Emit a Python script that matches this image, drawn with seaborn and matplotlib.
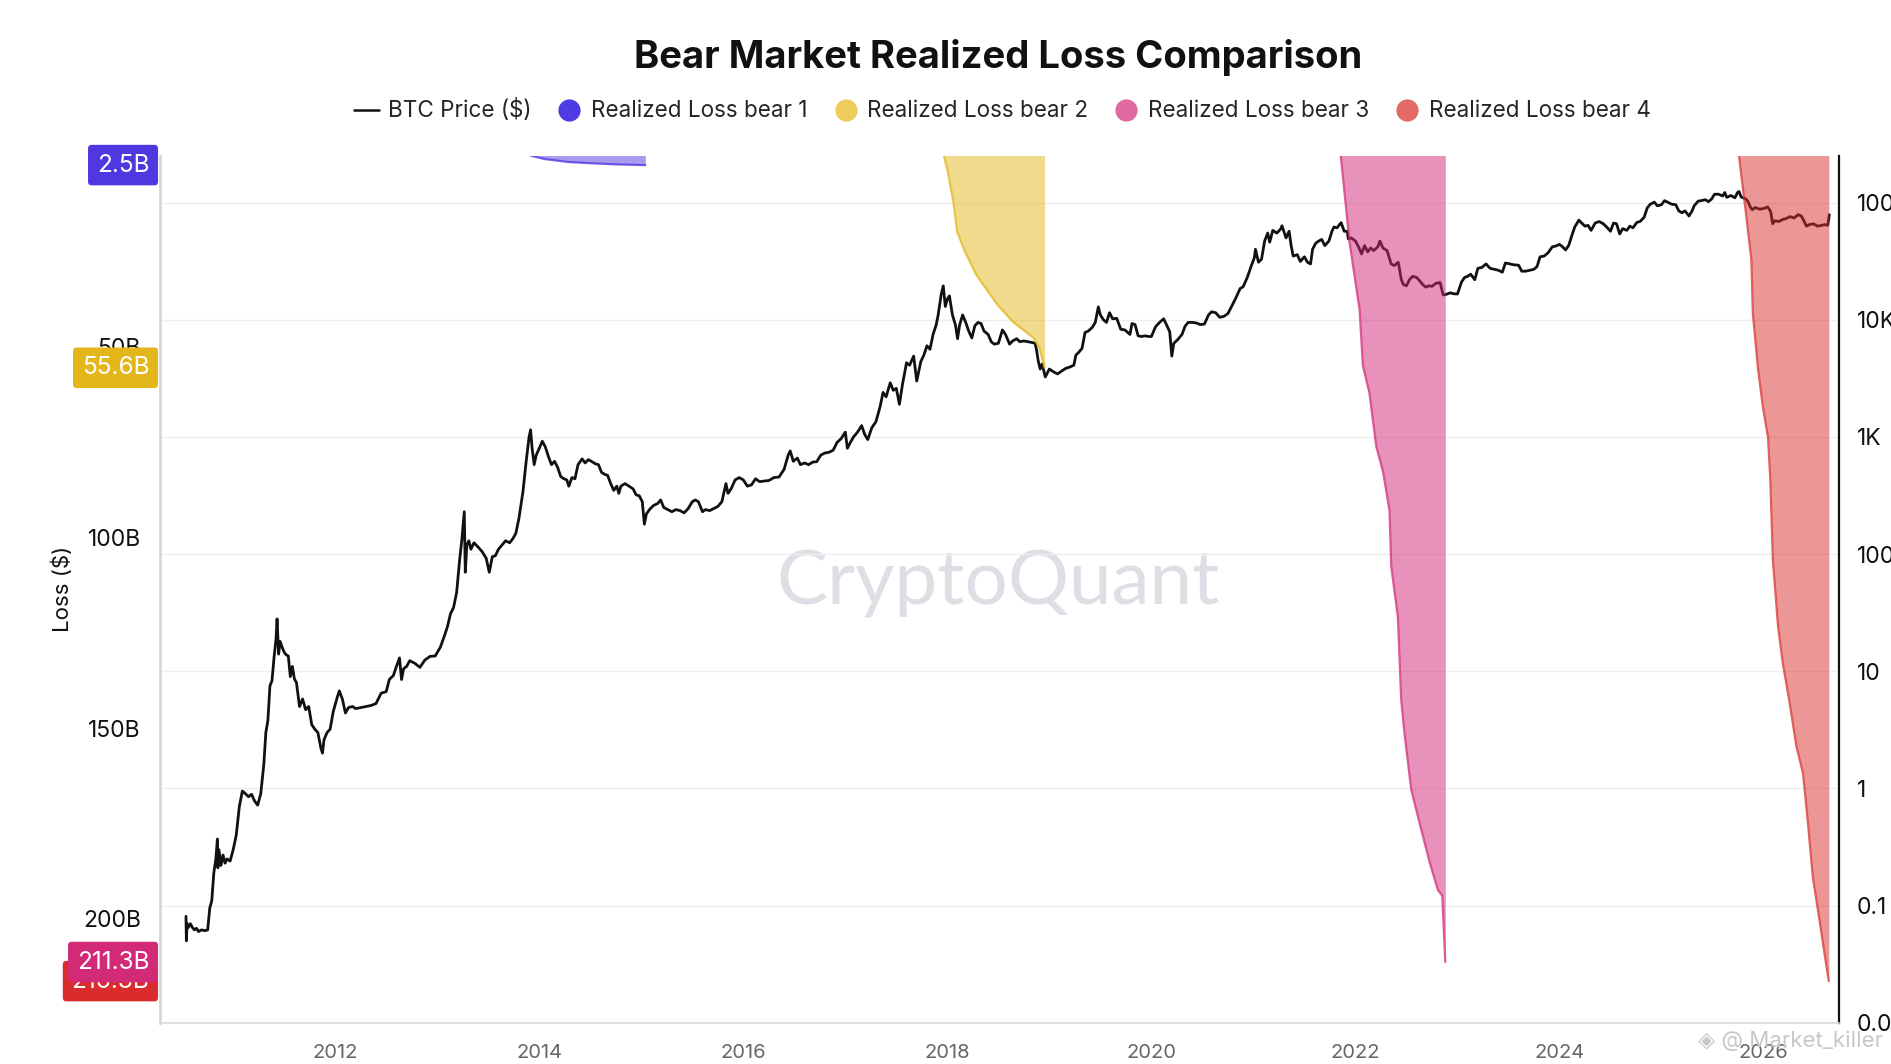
import matplotlib
matplotlib.use("Agg")
import matplotlib.pyplot as plt
import matplotlib.transforms as mtransforms
from matplotlib.lines import Line2D
from matplotlib.ticker import NullLocator
import numpy as np
import pandas as pd
import seaborn as sns

# ---------------- data ----------------
price_year = [
    2010.537, 2010.541, 2010.548, 2010.56, 2010.58, 2010.60, 2010.62, 2010.64, 2010.66, 2010.69,
    2010.72, 2010.75, 2010.77, 2010.79, 2010.81, 2010.83, 2010.845, 2010.85, 2010.86, 2010.88,
    2010.90, 2010.92, 2010.94, 2010.97, 2011.00, 2011.03, 2011.06, 2011.09, 2011.12, 2011.15,
    2011.18, 2011.21, 2011.24, 2011.27, 2011.30, 2011.32, 2011.34, 2011.36, 2011.38, 2011.40,
    2011.42, 2011.43, 2011.445, 2011.46, 2011.48, 2011.50, 2011.52, 2011.54, 2011.56, 2011.58,
    2011.60, 2011.62, 2011.65, 2011.68, 2011.71, 2011.74, 2011.77, 2011.80, 2011.83, 2011.86,
    2011.875, 2011.89, 2011.92, 2011.95, 2011.98, 2012.02, 2012.04, 2012.07, 2012.10, 2012.13,
    2012.17, 2012.20, 2012.25, 2012.30, 2012.35, 2012.40, 2012.45, 2012.50, 2012.53, 2012.57,
    2012.60, 2012.63, 2012.65, 2012.67, 2012.70, 2012.73, 2012.78, 2012.83, 2012.88, 2012.93,
    2012.98, 2013.03, 2013.07, 2013.10, 2013.13, 2013.16, 2013.19, 2013.22, 2013.24, 2013.265,
    2013.275, 2013.29, 2013.31, 2013.33, 2013.36, 2013.40, 2013.44, 2013.48, 2013.51, 2013.54,
    2013.57, 2013.60, 2013.63, 2013.67, 2013.71, 2013.74, 2013.77, 2013.80, 2013.84, 2013.87,
    2013.90, 2013.915, 2013.93, 2013.95, 2013.97, 2014.00, 2014.03, 2014.06, 2014.09, 2014.12,
    2014.15, 2014.18, 2014.21, 2014.24, 2014.27, 2014.29, 2014.32, 2014.35, 2014.38, 2014.42,
    2014.45, 2014.48, 2014.51, 2014.55, 2014.58, 2014.61, 2014.64, 2014.67, 2014.70, 2014.73,
    2014.76, 2014.78, 2014.80, 2014.84, 2014.88, 2014.92, 2014.95, 2014.98, 2015.01, 2015.03,
    2015.05, 2015.08, 2015.12, 2015.16, 2015.19, 2015.22, 2015.26, 2015.30, 2015.34, 2015.38,
    2015.42, 2015.46, 2015.50, 2015.53, 2015.56, 2015.60, 2015.63, 2015.67, 2015.71, 2015.75,
    2015.79, 2015.83, 2015.85, 2015.88, 2015.92, 2015.96, 2016.00, 2016.04, 2016.08, 2016.12,
    2016.16, 2016.20, 2016.25, 2016.30, 2016.35, 2016.40, 2016.44, 2016.46, 2016.49, 2016.53,
    2016.56, 2016.60, 2016.64, 2016.68, 2016.72, 2016.76, 2016.80, 2016.84, 2016.88, 2016.92,
    2016.96, 2017.00, 2017.02, 2017.05, 2017.08, 2017.12, 2017.16, 2017.19, 2017.22, 2017.26,
    2017.30, 2017.34, 2017.37, 2017.40, 2017.44, 2017.47, 2017.50, 2017.53, 2017.56, 2017.60,
    2017.63, 2017.67, 2017.70, 2017.74, 2017.77, 2017.80, 2017.83, 2017.86, 2017.89, 2017.91,
    2017.94, 2017.96, 2017.98, 2018.00, 2018.02, 2018.05, 2018.08, 2018.10, 2018.12, 2018.15,
    2018.18, 2018.21, 2018.24, 2018.27, 2018.30, 2018.33, 2018.36, 2018.40, 2018.43, 2018.46,
    2018.50, 2018.54, 2018.57, 2018.61, 2018.64, 2018.68, 2018.71, 2018.75, 2018.79, 2018.83,
    2018.86, 2018.875, 2018.89, 2018.91, 2018.93, 2018.96, 2019.00, 2019.04, 2019.08, 2019.12,
    2019.16, 2019.20, 2019.24, 2019.26, 2019.29, 2019.32, 2019.35, 2019.38, 2019.42, 2019.45,
    2019.48, 2019.50, 2019.53, 2019.56, 2019.59, 2019.62, 2019.66, 2019.70, 2019.74, 2019.79,
    2019.81, 2019.84, 2019.87, 2019.90, 2019.94, 2019.97, 2020.00, 2020.04, 2020.08, 2020.12,
    2020.15, 2020.18, 2020.20, 2020.22, 2020.26, 2020.30, 2020.33, 2020.36, 2020.40, 2020.44,
    2020.48, 2020.52, 2020.56, 2020.59, 2020.63, 2020.67, 2020.71, 2020.75, 2020.79, 2020.83,
    2020.87, 2020.90, 2020.94, 2020.98, 2021.01, 2021.02, 2021.05, 2021.08, 2021.11, 2021.14,
    2021.16, 2021.19, 2021.23, 2021.27, 2021.28, 2021.32, 2021.35, 2021.37, 2021.39, 2021.43,
    2021.46, 2021.50, 2021.53, 2021.56, 2021.58, 2021.61, 2021.64, 2021.67, 2021.70, 2021.74,
    2021.77, 2021.79, 2021.82, 2021.85, 2021.86, 2021.89, 2021.92, 2021.93, 2021.96, 2022.00,
    2022.03, 2022.06, 2022.09, 2022.12, 2022.15, 2022.18, 2022.22, 2022.24, 2022.27, 2022.31,
    2022.35, 2022.38, 2022.42, 2022.45, 2022.47, 2022.50, 2022.53, 2022.56, 2022.60, 2022.63,
    2022.66, 2022.69, 2022.72, 2022.75, 2022.79, 2022.83, 2022.86, 2022.89, 2022.93, 2022.96,
    2023.00, 2023.04, 2023.07, 2023.10, 2023.13, 2023.17, 2023.20, 2023.24, 2023.28, 2023.32,
    2023.36, 2023.40, 2023.44, 2023.47, 2023.50, 2023.55, 2023.60, 2023.63, 2023.67, 2023.71,
    2023.75, 2023.78, 2023.81, 2023.85, 2023.89, 2023.93, 2023.96, 2024.00, 2024.03, 2024.06,
    2024.09, 2024.12, 2024.15, 2024.19, 2024.21, 2024.25, 2024.28, 2024.31, 2024.35, 2024.39,
    2024.43, 2024.47, 2024.50, 2024.53, 2024.56, 2024.59, 2024.62, 2024.66, 2024.69, 2024.72,
    2024.76, 2024.79, 2024.83, 2024.86, 2024.89, 2024.93, 2024.96, 2025.00, 2025.03, 2025.06,
    2025.10, 2025.14, 2025.17, 2025.20, 2025.23, 2025.27, 2025.30, 2025.32, 2025.36, 2025.39,
    2025.43, 2025.46, 2025.49, 2025.52, 2025.56, 2025.60, 2025.62, 2025.64, 2025.68, 2025.72,
    2025.745, 2025.76, 2025.78, 2025.80, 2025.83, 2025.85, 2025.87, 2025.89, 2025.92, 2025.96,
    2026.00, 2026.04, 2026.07, 2026.09, 2026.11, 2026.15, 2026.19, 2026.22, 2026.26, 2026.30,
    2026.34, 2026.37, 2026.40, 2026.42, 2026.45, 2026.49, 2026.53, 2026.57, 2026.60, 2026.63,
    2026.645,
]
price_usd = [
    0.081, 0.05, 0.07, 0.065, 0.07, 0.065, 0.062, 0.064, 0.06, 0.062,
    0.061, 0.062, 0.095, 0.11, 0.19, 0.25, 0.37, 0.21, 0.30, 0.22,
    0.27, 0.23, 0.25, 0.24, 0.30, 0.40, 0.70, 0.95, 0.90, 0.85,
    0.89, 0.78, 0.72, 0.90, 1.6, 3.0, 3.8, 7.5, 8.3, 13,
    19, 28, 14, 18, 16, 14.5, 13.8, 13.5, 9.0, 11.0,
    8.6, 8.0, 5.0, 5.8, 4.7, 5.0, 3.5, 3.2, 3.0, 2.2,
    2.0, 2.6, 3.0, 3.2, 4.5, 6.0, 6.8, 5.8, 4.4, 4.9,
    5.0, 4.8, 4.9, 5.0, 5.1, 5.3, 6.5, 6.7, 8.5, 9.2,
    11.0, 13.0, 8.5, 10.5, 11.0, 12.3, 11.7, 10.8, 12.5, 13.4,
    13.5, 16.0, 20, 24, 31, 35, 47, 90, 130, 230,
    70, 120, 130, 110, 125, 115, 105, 92, 70, 95,
    97, 110, 118, 130, 125, 135, 150, 200, 340, 600,
    1000, 1150, 800, 580, 700, 800, 920, 820, 680, 580,
    620, 550, 460, 440, 430, 380, 450, 440, 580, 650,
    600, 640, 620, 590, 580, 500, 480, 470, 400, 350,
    380, 330, 380, 400, 380, 360, 320, 315, 280, 180,
    220, 240, 260, 270, 290, 250, 240, 230, 240, 235,
    225, 245, 280, 290, 280, 230, 240, 235, 245, 255,
    280, 400, 330, 360, 430, 450, 430, 380, 390, 440,
    415, 420, 425, 450, 455, 530, 700, 760, 620, 660,
    580, 600, 580, 610, 615, 700, 730, 740, 770, 900,
    970, 1100, 800, 900, 1000, 1100, 1250, 1050, 950, 1200,
    1350, 1800, 2400, 2200, 2900, 2500, 2600, 1900, 2800, 4300,
    4100, 4900, 3000, 4400, 5000, 6000, 5600, 7500, 9000, 11000,
    16500, 19500, 13000, 15000, 16000, 11000, 9000, 6900, 9000, 11000,
    9500, 8000, 7000, 8900, 9500, 9300, 8000, 7500, 6500, 6200,
    6300, 8200, 7500, 6200, 6600, 6900, 6500, 6600, 6500, 6400,
    6300, 5500, 4500, 3800, 4200, 3250, 3800, 3600, 3450, 3650,
    3850, 3950, 4100, 5000, 5300, 5700, 7800, 8000, 8600, 9500,
    12900, 11000, 10000, 9500, 11500, 10200, 10300, 8300, 8200, 7500,
    9300, 9100, 7300, 7200, 7300, 7200, 7200, 8700, 9500, 10200,
    9000, 7900, 4900, 6300, 6800, 7500, 8800, 9500, 9500, 9400,
    9100, 9200, 11000, 11700, 11500, 10500, 10700, 11300, 13200, 15500,
    18500, 19200, 23000, 29000, 34000, 40000, 31000, 33000, 47000, 55000,
    46000, 58000, 55000, 60000, 63500, 50000, 57000, 43000, 35000, 36000,
    31500, 34500, 31000, 30000, 40000, 45000, 47000, 48500, 43000, 47000,
    57000, 62000, 61000, 66000, 67500, 57000, 57000, 49000, 50000, 47000,
    42000, 36500, 43000, 38000, 41000, 39000, 42000, 47000, 41000, 39000,
    30000, 29000, 31000, 22000, 20000, 19500, 22000, 23500, 23000, 21500,
    20000, 19000, 19500, 19300, 20500, 20800, 16300, 16500, 17000, 16700,
    16600, 21000, 23000, 23500, 24500, 22000, 27500, 28000, 30000, 27500,
    27000, 26500, 25500, 30500, 30200, 29500, 29200, 26000, 26000, 26500,
    27000, 28500, 34500, 35000, 37500, 42000, 42500, 44000, 42000, 39500,
    43000, 52000, 62000, 71000, 68000, 63000, 64000, 58000, 67000, 69000,
    66000, 61000, 57000, 67000, 66000, 54000, 60000, 58000, 63000, 61000,
    68000, 69000, 75000, 90000, 97000, 101000, 94000, 96000, 104000, 101000,
    97000, 96000, 85000, 82000, 85000, 77000, 85000, 94000, 103000, 104000,
    106000, 102000, 107000, 118000, 118000, 114000, 122000, 111000, 115000, 110000,
    122000, 124500, 112000, 110000, 107000, 101000, 92000, 87000, 91000, 88000,
    89000, 92000, 84000, 66000, 70000, 69000, 72000, 73000, 76000, 74000,
    79000, 77000, 69000, 63000, 65000, 66000, 63000, 64000, 65000, 64000,
    79000,
]

bear1_year = [2013.915, 2014.05, 2014.29, 2014.50, 2014.74, 2015.04]
bear1_loss = [0.0, 0.9, 1.7, 2.0, 2.3, 2.5]

bear2_year = [2017.966, 2018.004, 2018.059, 2018.097, 2018.173, 2018.285,
              2018.491, 2018.641, 2018.846, 2018.903, 2018.953]
bear2_loss = [0.0, 4.2, 12.1, 20.0, 25.2, 31.3, 39.1, 43.5, 47.8, 50.4, 55.6]

bear3_year = [2021.856, 2021.943, 2022.041, 2022.073, 2022.138, 2022.204,
              2022.270, 2022.334, 2022.351, 2022.416, 2022.449, 2022.481,
              2022.547, 2022.629, 2022.727, 2022.808, 2022.851, 2022.881]
bear3_loss = [0.0, 22.8, 40.4, 55.0, 62.3, 76.2, 82.7, 93.0, 107.6, 120.8,
              142.7, 151.4, 166.1, 174.9, 185.1, 192.4, 193.9, 211.3]

bear4_year = [2025.759, 2025.831, 2025.881, 2025.896, 2025.946, 2025.994,
              2026.044, 2026.066, 2026.092, 2026.142, 2026.190, 2026.255,
              2026.322, 2026.387, 2026.435, 2026.483, 2026.550, 2026.598, 2026.640]
bear4_loss = [0.0, 15.8, 27.2, 41.5, 55.8, 65.9, 73.8, 84.5, 106.0, 123.2,
              133.2, 143.2, 154.7, 161.8, 174.7, 189.0, 200.5, 209.1, 216.3]

series_names = ["Realized Loss bear 1", "Realized Loss bear 2",
                "Realized Loss bear 3", "Realized Loss bear 4"]
end_labels = ["2.5B", "55.6B", "211.3B", "216.3B"]

loss_ticks = [50, 100, 150, 200]
loss_tick_labels = ["50B", "100B", "150B", "200B"]
price_ticks = [0.01, 0.1, 1, 10, 100, 1000, 10000, 100000]
price_tick_labels = ["0.01", "0.1", "1", "10", "100", "1K", "10K", "100K"]
year_ticks = [2012, 2014, 2016, 2018, 2020, 2022, 2024, 2026]

# ---------------- styles ----------------
bear_colors = ["#5038E0", "#E2B618", "#D22778", "#D9302C"]
badge_colors = ["#5038E0", "#E3B71C", "#D32A78", "#DA2C2C"]
legend_colors = ["#4F3BE3", "#EDCB5C", "#E06AA0", "#E36A65"]

sns.set_style("white")
plt.rcParams["font.family"] = ["Inter", "DejaVu Sans"]

fig = plt.figure(figsize=(18.91, 10.64), dpi=100)
ax_p = fig.add_axes([0.0848, 0.0388, 0.8877, 0.815])
ax_l = ax_p.twinx()

# BTC price (log, right axis)
price_df = pd.DataFrame({"year": price_year, "price": price_usd})
sns.lineplot(data=price_df, x="year", y="price", ax=ax_p, color="#111111",
             linewidth=2.0, estimator=None, sort=False, zorder=3)
ax_p.set_yscale("log")
ax_p.set_ylim(0.01, 10 ** 5.402)
ax_p.set_xlim(2010.286, 2026.74)

# Realized loss areas (inverted, left axis)
bears = [(bear1_year, bear1_loss), (bear2_year, bear2_loss),
         (bear3_year, bear3_loss), (bear4_year, bear4_loss)]
for (yr, ls), col in zip(bears, bear_colors):
    ax_l.fill_between(yr, 0, ls, color=col, alpha=0.5, linewidth=0, zorder=2)
    df = pd.DataFrame({"year": yr, "loss": ls})
    sns.lineplot(data=df, x="year", y="loss", ax=ax_l, color=col, alpha=0.75,
                 linewidth=1.6, estimator=None, sort=False, zorder=3)
ax_l.set_ylim(227.2, 0)
ax_l.set_xlim(2010.286, 2026.74)

# axes / ticks
ax_p.yaxis.tick_right()
ax_p.set_yticks(price_ticks)
ax_p.set_yticklabels(price_tick_labels)
ax_p.yaxis.set_minor_locator(NullLocator())
ax_p.tick_params(axis="y", length=0, pad=13, labelsize=16.5, labelcolor="#111111")
ax_p.set_xticks(year_ticks)
ax_p.set_xticklabels([str(y) for y in year_ticks])
ax_p.tick_params(axis="x", length=8, width=1, color="#d4d4d8", labelsize=14.5,
                 labelcolor="#666666", pad=7, direction="out")
ax_p.grid(axis="y", color="#eeeef0", linewidth=1)
ax_p.grid(axis="x", visible=False)
ax_p.set_axisbelow(True)
ax_p.set_xlabel("")
ax_p.set_ylabel("")

ax_l.yaxis.tick_left()
ax_l.yaxis.set_label_position("left")
ax_l.set_yticks(loss_ticks)
ax_l.set_yticklabels(loss_tick_labels)
ax_l.tick_params(axis="y", length=0, pad=14, labelsize=16.5, labelcolor="#111111")
ax_l.grid(False)
ax_l.set_xlabel("")
ax_l.set_ylabel("Loss ($)", fontsize=16, color="#111111")
ax_l.yaxis.set_label_coords(-0.052, 0.5)

for s in ["top", "left"]:
    ax_p.spines[s].set_visible(False)
ax_p.spines["right"].set_color("#111111")
ax_p.spines["right"].set_linewidth(1.6)
ax_p.spines["bottom"].set_color("#dadade")
ax_p.spines["bottom"].set_linewidth(1.2)
for s in ["top", "right", "bottom"]:
    ax_l.spines[s].set_visible(False)
ax_l.spines["left"].set_color("#d6d6dd")
ax_l.spines["left"].set_linewidth(2)

# end-value badges on the left axis
trans = mtransforms.blended_transform_factory(ax_l.transAxes, ax_l.transData)
order = [3, 2, 1, 0]
for k, i in enumerate(order):
    ax_l.text(-0.0066, bears[i][1][-1], end_labels[i], transform=trans,
              ha="right", va="center", fontsize=17.5, color="white",
              zorder=10 + k, clip_on=False,
              bbox=dict(boxstyle="round,pad=0.36,rounding_size=0.15",
                        fc=badge_colors[i], ec="none"))

# watermark
ax_p.text(0.499, 0.507, "CryptoQuant", transform=ax_p.transAxes, ha="center",
          va="center", fontsize=55, color="#dedee5", family=["Lato", "DejaVu Sans"],
          zorder=0)
fig.text(0.996, 0.022, "◈ @ Market_killer", ha="right", va="center",
         fontsize=16, color="#c8c8c8", family=["Inter", "DejaVu Sans"])

# legend
handles = [Line2D([], [], color="#111111", linewidth=1.8)]
for col in legend_colors:
    handles.append(Line2D([], [], marker="o", linestyle="none", markersize=16,
                          markerfacecolor=col, markeredgecolor="none"))
labels = ["BTC Price ($)"] + series_names
fig.legend(handles, labels, loc="center", bbox_to_anchor=(0.53, 0.8957), ncol=5,
           frameon=False, fontsize=16.2, handlelength=1.1, handletextpad=0.4,
           columnspacing=1.15)

# title
fig.text(0.5278, 0.9464, "Bear Market Realized Loss Comparison", ha="center",
         va="center", fontsize=27.5, fontweight="bold", color="#111111")

fig.savefig("out.png", dpi=100)
